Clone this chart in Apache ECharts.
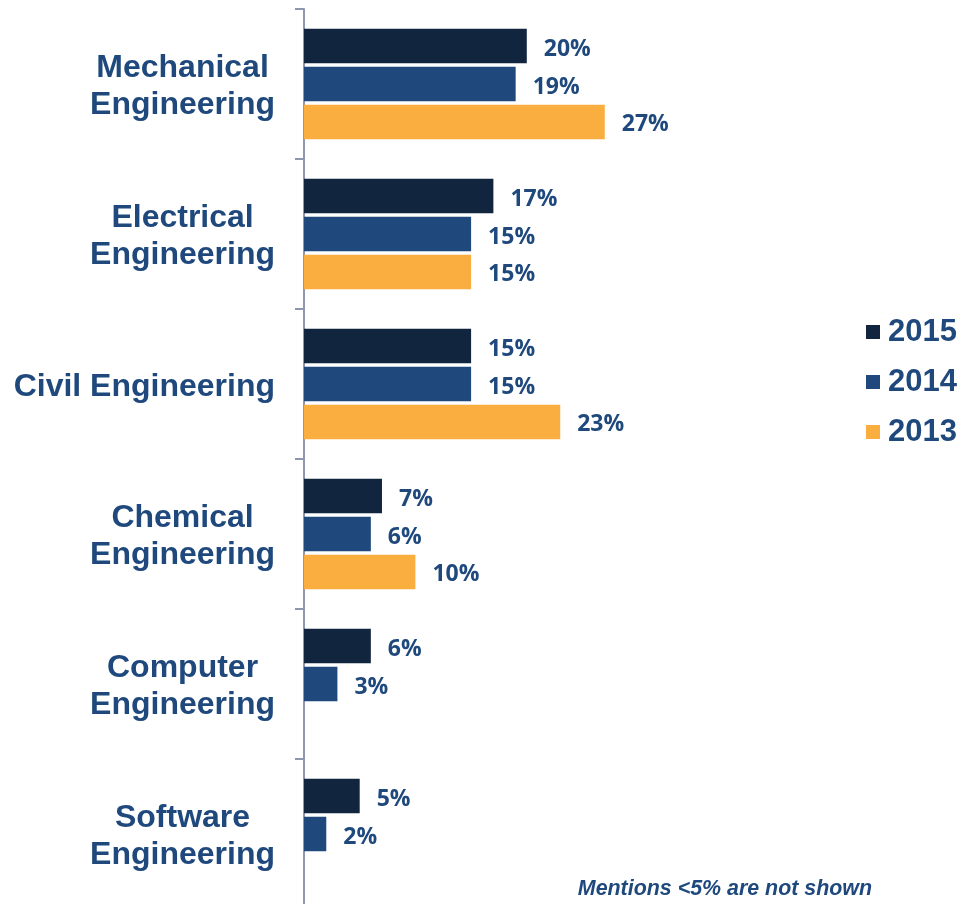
<!DOCTYPE html>
<html>
<head>
<meta charset="utf-8">
<script src="https://cdn.jsdelivr.net/npm/echarts@6/dist/echarts.min.js"></script>
<style>
  html, body { margin: 0; padding: 0; background: #ffffff; }
  #chart { width: 961px; height: 904px; }
</style>
</head>
<body>
<div id="chart"></div>
<script>
// Engineering disciplines, listed top to bottom
const categories = [
  'Mechanical\nEngineering',
  'Electrical\nEngineering',
  'Civil Engineering',
  'Chemical\nEngineering',
  'Computer\nEngineering',
  'Software\nEngineering'
];
// Share of mentions (%) per year; '-' marks values under 5% that are left out
const values2015 = [20, 17, 15, 7, 6, 5];
const values2014 = [19, 15, 15, 6, 3, 2];
const values2013 = [27, 15, 23, 10, '-', '-'];
const years = ['2015', '2014', '2013'];
const footnote = 'Mentions <5% are not shown';

const textBlue = '#1F497D';
const colors = ['#12253F', '#1F497D', '#FBAE40'];

function barSeries(name, data, color) {
  return {
    name: name,
    type: 'bar',
    data: data,
    barWidth: 34.5,
    barGap: '10%',
    itemStyle: { color: color },
    label: {
      show: true,
      position: 'right',
      distance: 17,
      offset: [0, 3],
      formatter: '{c}%',
      color: textBlue,
      fontFamily: 'Open Sans',
      fontWeight: 'bold',
      fontSize: 23
    }
  };
}

const chart = echarts.init(document.getElementById('chart'), null, { renderer: 'canvas' });
chart.setOption({
  backgroundColor: '#ffffff',
  animation: false,
  // the plot runs a few pixels past the bottom edge so the last band is full height
  grid: {
    left: 304, top: 9, width: 557, height: 900,
    containLabel: false,
    outerBoundsMode: 'none'
  },
  xAxis: {
    type: 'value',
    min: 0,
    max: 50,
    show: false
  },
  yAxis: {
    type: 'category',
    data: categories,
    inverse: true,
    axisLine: { show: true, lineStyle: { color: '#8E97B0', width: 2 } },
    axisTick: { show: true, length: 9, lineStyle: { color: '#8E97B0', width: 2 } },
    axisLabel: {
      margin: 29,
      align: 'right',
      padding: [6, 0, 0, 0],
      // each line is centred within the label block, the block sits right-aligned
      formatter: function (value) {
        return value.split('\n').map(function (line) { return '{c|' + line + '}'; }).join('\n');
      },
      rich: {
        c: {
          align: 'center',
          color: textBlue,
          fontFamily: 'Liberation Sans',
          fontWeight: 'bold',
          fontSize: 32,
          lineHeight: 37
        }
      }
    },
    splitLine: { show: false }
  },
  legend: {
    orient: 'vertical',
    left: 866,
    top: 315,
    padding: 0,
    itemWidth: 14,
    itemHeight: 14,
    itemGap: 16,
    icon: 'rect',
    data: years,
    textStyle: {
      color: textBlue,
      fontFamily: 'Liberation Sans',
      fontWeight: 'bold',
      fontSize: 31,
      lineHeight: 34,
      padding: [0, 0, 0, 3]
    }
  },
  graphic: [{
    type: 'text',
    right: 89,
    top: 879,
    style: {
      text: footnote,
      fill: textBlue,
      font: 'italic bold 21.4px "Liberation Sans"'
    }
  }],
  series: [
    barSeries(years[0], values2015, colors[0]),
    barSeries(years[1], values2014, colors[1]),
    barSeries(years[2], values2013, colors[2])
  ]
});
</script>
</body>
</html>
